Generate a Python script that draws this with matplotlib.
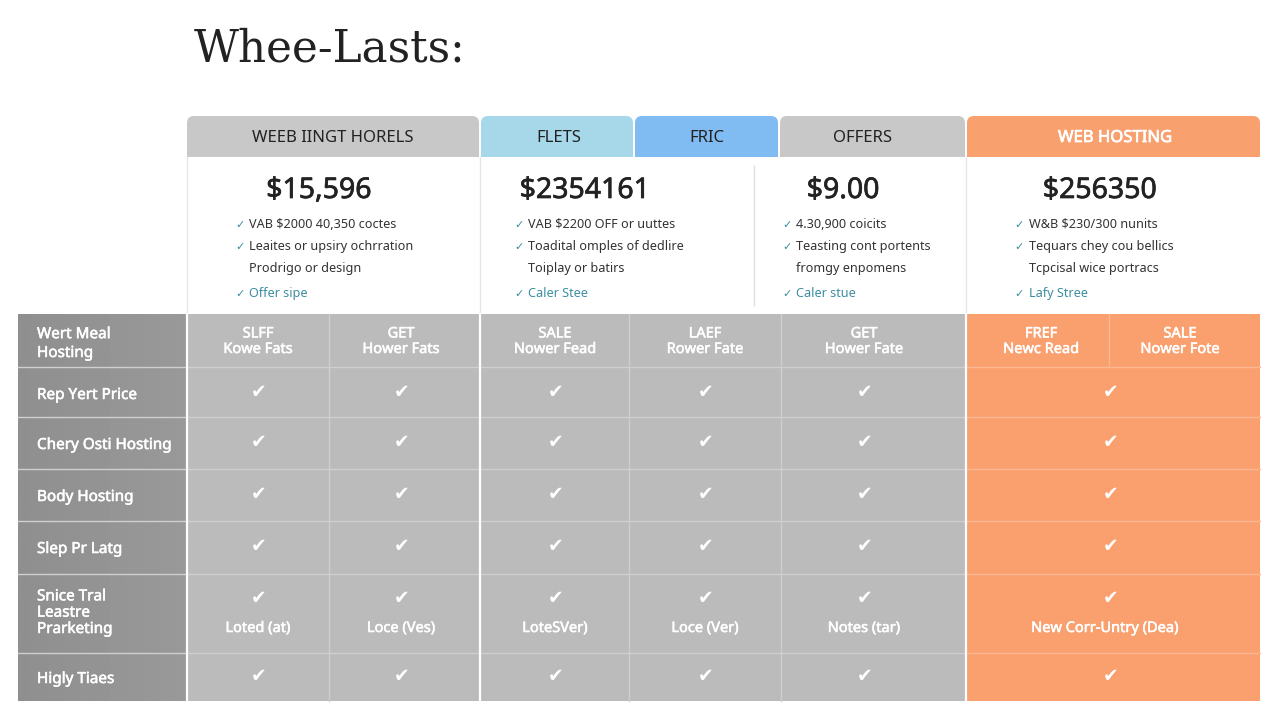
import matplotlib
matplotlib.use('Agg')
import matplotlib.pyplot as plt
from matplotlib.patches import FancyBboxPatch, Rectangle
import matplotlib.patheffects as pe
import numpy as np

plt.rcParams['font.family'] = ['Noto Sans', 'DejaVu Sans']

title = 'Whee-Lasts:'

# plan headers
headers = ['WEEB IINGT HORELS', 'FLETS', 'FRIC', 'OFFERS', 'WEB HOSTING']
prices = ['$15,596', '$2354161', '$9.00', '$256350']

# feature lists, one per price card
features = [
    ['VAB $2000 40,350 coctes', 'Leaites or upsiry ochrration', 'Prodrigo or design', 'Offer sipe'],
    ['VAB $2200 OFF or uuttes', 'Toadital omples of dedlire', 'Toiplay or batirs', 'Caler Stee'],
    ['4.30,900 coicits', 'Teasting cont portents', 'fromgy enpomens', 'Caler stue'],
    ['W&B $230/300 nunits', 'Tequars chey cou bellics', 'Tcpcisal wice portracs', 'Lafy Stree'],
]
# which feature lines carry a tick
feature_ticks = [True, True, False, True]

row_labels = ['Wert Meal\nHosting', 'Rep Yert Price', 'Chery Osti Hosting', 'Body Hosting',
              'Slep Pr Latg', 'Snice Tral\nLeastre\nPrarketing', 'Higly Tiaes']
first_row = ['SLFF\nKowe Fats', 'GET\nHower Fats', 'SALE\nNower Fead', 'LAEF\nRower Fate',
             'GET\nHower Fate', 'FREF\nNewc Read', 'SALE\nNower Fote']
note_row = ['Loted (at)', 'Loce (Ves)', 'LoteSVer)', 'Loce (Ver)', 'Notes (tar)', 'New Corr-Untry (Dea)']

# layout in pixels
col_edges = [186, 329, 480, 629, 781, 966, 1260]
orange_split = 1109
row_edges = [314, 367, 417, 469, 521, 574, 653, 701]
label_left = 18
header_edges = [(187, 479), (481, 633), (635, 778), (780, 965), (967, 1260)]
header_colors = ['#c8c8c8', '#a7d8ea', '#80bbf1', '#c8c8c8', '#f9a06f']
header_text = ['#222222', '#222222', '#222222', '#222222', '#ffffff']
header_cx = [333, 559, 707, 862, 1115]
price_x = [319, 585, 843, 1100]
feat_x = [249, 528, 796, 1029]
tick_x = [240, 519, 787, 1019]
feat_base = [228, 250, 272, 297]
gray = '#bbbbbb'
orange = '#fa9f6e'
line_c = '#cfcfcf'
white_c = '#ffffff'


def heavy(w):
    return [pe.withStroke(linewidth=w, foreground='white')]


fig = plt.figure(figsize=(12.8, 7.2), dpi=100)
ax = fig.add_axes([0, 0, 1, 1])
ax.set_xlim(0, 1280)
ax.set_ylim(720, 0)
ax.axis('off')

ax.text(194, 61, title, family='DejaVu Serif', fontsize=31.5, color='#222222', va='baseline', ha='left')

# header tabs, rounded on top only
for (x0, x1), c, t, cx, tc in zip(header_edges, header_colors, headers, header_cx, header_text):
    ax.add_patch(FancyBboxPatch((x0 + 6, 116 + 6), x1 - x0 - 12, 20, boxstyle='round,pad=6,rounding_size=7',
                                fc=c, ec='none'))
    ax.add_patch(Rectangle((x0, 138), x1 - x0, 19, fc=c, ec='none'))
    txt = ax.text(cx, 142, t, fontsize=12, color=tc, ha='center', va='baseline')
    if tc == '#ffffff':
        txt.set_path_effects(heavy(0.5))

# card separators
for x in [186.5, 479.5, 965.5]:
    ax.plot([x, x], [157, 314], color='#e6e6e6', lw=1)
ax.plot([754, 754], [166, 305], color='#e0e0e0', lw=1)

# prices and feature lists
for i in range(4):
    ax.text(price_x[i], 198, prices[i], fontsize=20.5, color='#222222', ha='center', va='baseline',
            path_effects=[pe.withStroke(linewidth=0.5, foreground='#222222')])
    for j in range(4):
        c = '#3c8ea0' if j == 3 else '#333333'
        ax.text(feat_x[i], feat_base[j], features[i][j], fontsize=9.1, color=c, ha='left', va='baseline')
        if feature_ticks[j]:
            ax.text(tick_x[i], feat_base[j], '\u2713', fontsize=8, color='#3c8ea0', ha='center', va='baseline',
                    family='DejaVu Sans')

# left label column with soft gradient
grad = np.linspace(0.56, 0.60, 64).reshape(1, -1)
ax.imshow(grad, extent=[label_left, 186, row_edges[-1], row_edges[0]], cmap='gray', vmin=0, vmax=1,
          aspect='auto', zorder=1)
ax.set_xlim(0, 1280)
ax.set_ylim(720, 0)

# table body
ax.add_patch(Rectangle((186, 314), 780, 387, fc=gray, ec='none', zorder=1))
ax.add_patch(Rectangle((966, 314), 294, 387, fc=orange, ec='none', zorder=1))

for y in row_edges[1:-1]:
    ax.plot([label_left, 966], [y, y], color=line_c, lw=1, zorder=2)
    ax.plot([966, 1260], [y, y], color='#fbb893', lw=1, zorder=2)
for x in col_edges[1:5]:
    lw = 1.6 if x == 480 else 1
    c = '#ffffff' if x == 480 else line_c
    ax.plot([x, x], [314, 701], color=c, lw=lw, zorder=2)
ax.plot([orange_split] * 2, [314, 367], color='#fbb893', lw=1, zorder=2)
ax.plot([186.5] * 2, [314, 701], color=white_c, lw=1.6, zorder=2)
ax.plot([966, 966], [314, 701], color=white_c, lw=1.6, zorder=2)

# row labels
label_base = [357, 399, 449, 501, 553, 633, 683]
label_space = [1.35, 1, 1, 1, 1, 1.12, 1]
for lab, y, sp in zip(row_labels, label_base, label_space):
    ax.text(37, y, lab, fontsize=11, color='#ffffff', ha='left', va='baseline',
            linespacing=sp, zorder=3, path_effects=heavy(0.4))

# first row and body cells
cell_x = [258, 401, 555, 705, 864]
first_x = cell_x + [1041, 1180]
for x, t in zip(first_x, first_row):
    ax.text(x, 353, t, fontsize=10.5, color='#ffffff', ha='center', va='baseline',
            linespacing=1.05, zorder=3, path_effects=heavy(0.4))

check_y = [393, 443, 495, 547, 598, 677]
for x in cell_x + [1110]:
    for y in check_y:
        ax.text(x + 1, y, '\u2714', fontsize=13.5, color='#ffffff', ha='center', va='center',
                family='DejaVu Sans', zorder=3)
for x, t in zip(cell_x + [1105], note_row):
    ax.text(x, 632, t, fontsize=10.5, color='#ffffff', ha='center', va='baseline', zorder=3,
            path_effects=heavy(0.4))

fig.savefig('out.png', dpi=100, facecolor='white')
